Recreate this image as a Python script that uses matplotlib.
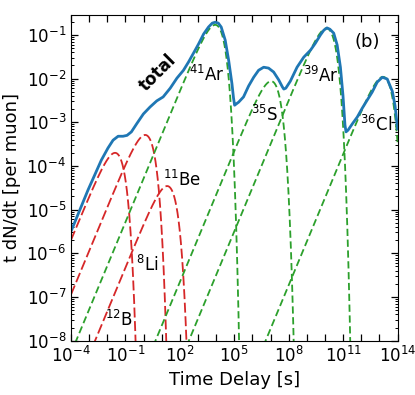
import numpy as np
import matplotlib.pyplot as plt
from matplotlib.ticker import FixedLocator, FuncFormatter, LogLocator, NullLocator, NullFormatter

# dashed curves: mean life (log10 s) and peak height of t dN/dt (log10 per muon)
isotopes = [r'$^{12}$B', r'$^{8}$Li', r'$^{11}$Be', r'$^{41}$Ar', r'$^{35}$S', r'$^{39}$Ar', r'$^{36}$Cl']
log_tau = [-1.57, 0.09, 1.30, 3.95, 7.03, 10.08, 13.20]
log_peak = [-3.70, -3.29, -4.46, -0.77, -2.06, -0.85, -1.96]
colours = ['#d62728', '#d62728', '#d62728', '#2ca02c', '#2ca02c', '#2ca02c', '#2ca02c']

# label positions (log10 t, log10 y)
label_x = [-1.35, 0.22, 2.13, 3.51, 6.68, 9.75, 12.81]
label_y = [-7.53, -6.27, -4.32, -1.92, -2.84, -1.94, -3.06]

# total curve (log10 t, log10 y)
total_log_t = [-3.97, -3.06, -2.33, -1.96, -1.68, -1.40, -1.13, -0.91, -0.67, -0.37,
               -0.01, 0.36, 0.73, 1.08, 1.47, 1.84, 2.20, 2.48, 2.75, 3.03,
               3.31, 3.58, 3.79, 3.95, 4.12, 4.28, 4.50, 4.69, 4.87, 4.96,
               5.02, 5.11, 5.24, 5.51, 5.79, 6.07, 6.34, 6.62, 6.89, 7.17,
               7.45, 7.65, 7.73, 7.84, 8.09, 8.46, 8.83, 9.20, 9.47, 9.75,
               9.94, 10.11, 10.27, 10.48, 10.67, 10.85, 10.99, 11.10, 11.16, 11.27,
               11.50, 11.78, 12.05, 12.33, 12.60, 12.88, 13.16, 13.43, 13.71, 13.86,
               14.0]
total_log_y = [-5.47, -4.55, -3.87, -3.59, -3.41, -3.32, -3.32, -3.30, -3.22, -3.03,
               -2.81, -2.65, -2.51, -2.42, -2.22, -1.99, -1.81, -1.62, -1.42, -1.21,
               -0.98, -0.82, -0.73, -0.71, -0.73, -0.82, -1.12, -1.58, -2.11, -2.45,
               -2.61, -2.58, -2.54, -2.42, -2.17, -1.97, -1.81, -1.74, -1.76, -1.85,
               -2.03, -2.19, -2.24, -2.22, -2.06, -1.74, -1.51, -1.35, -1.19, -1.00,
               -0.89, -0.84, -0.87, -0.96, -1.23, -1.74, -2.38, -3.06, -3.22, -3.18,
               -3.04, -2.88, -2.68, -2.49, -2.31, -2.08, -1.97, -2.01, -2.29, -2.62,
               -3.15]

fig = plt.figure(figsize=(4.15, 3.95), dpi=100)
ax = fig.add_axes([0.171, 0.1375, 0.787, 0.8253])

t = np.logspace(-4, 14, 3000)
for name, lt, lp, c, lx, ly in zip(isotopes, log_tau, log_peak, colours, label_x, label_y):
    tau = 10.0 ** lt
    y = 10.0 ** lp * (t / tau) * np.exp(1 - t / tau)
    dash = (0, (5.5, 2.0)) if c == '#d62728' else (0, (4.0, 2.0))
    ax.plot(t, y, color=c, lw=1.3, linestyle=dash)
    ax.text(10.0 ** lx, 10.0 ** ly, name, fontsize=12, ha='center', va='center')

ax.plot(10.0 ** np.array(total_log_t), 10.0 ** np.array(total_log_y), color='#1f77b4', lw=2)
ax.text(10.0 ** 0.80, 10.0 ** -1.87, 'total', fontsize=12, fontweight='bold',
        rotation=45, ha='center', va='center')
ax.text(0.907, 0.915, '(b)', fontsize=13, transform=ax.transAxes, ha='center', va='center')

ax.set_xscale('log')
ax.set_yscale('log')
ax.set_xlim(1e-4, 1e14)
ax.set_ylim(1e-8, 0.29)

decades = np.arange(-4, 15)
ax.xaxis.set_major_locator(FixedLocator(10.0 ** decades))
ax.xaxis.set_major_formatter(FuncFormatter(
    lambda v, p: r'$10^{%d}$' % round(np.log10(v)) if round(np.log10(v)) % 3 == 2 else ''))
ax.xaxis.set_minor_locator(NullLocator())
ax.yaxis.set_major_locator(LogLocator(base=10, numticks=20))
ax.yaxis.set_minor_locator(LogLocator(base=10, subs=np.arange(2, 10), numticks=20))
ax.yaxis.set_minor_formatter(NullFormatter())

ax.tick_params(which='both', direction='in', top=True, right=True, labelsize=12)
ax.tick_params(which='major', length=5, width=0.9)
ax.tick_params(which='minor', length=2.5, width=0.7)

ax.set_xlabel('Time Delay [s]', fontsize=13)
ax.set_ylabel('t dN/dt [per muon]', fontsize=13)

fig.savefig('out.png', dpi=100)
